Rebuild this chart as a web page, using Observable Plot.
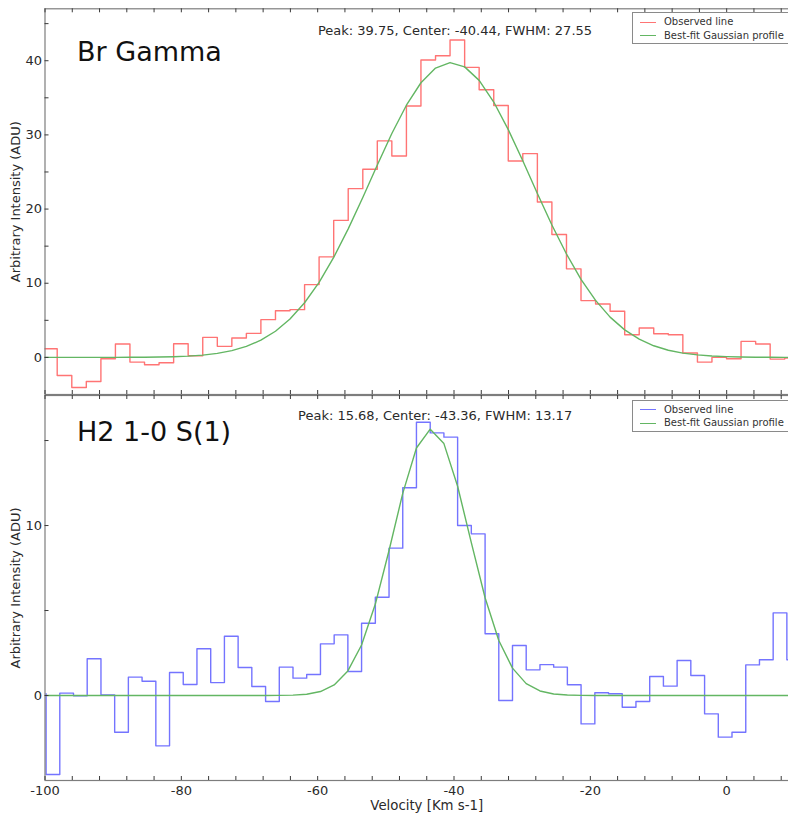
<!DOCTYPE html>
<html>
<head>
<meta charset="utf-8">
<script src="https://cdn.jsdelivr.net/npm/d3@7"></script>
<script src="https://cdn.jsdelivr.net/npm/@observablehq/plot@0.6"></script>
<style>
  html, body { margin: 0; padding: 0; background: #fff; }
  #wrap { position: relative; width: 788px; height: 815px; overflow: hidden; background: #fff; font-family: "DejaVu Sans", sans-serif; }
  .legend { position: absolute; left: 632px; width: 175px; height: 32px; border: 1px solid #8a8a8a; background: #fff; box-sizing: border-box; }
  .legend .row { position: absolute; left: 0; height: 12px; font-size: 10px; line-height: 12px; color: #333; white-space: nowrap; }
  .legend .sw { position: absolute; left: 7px; top: 5.5px; width: 16px; height: 0; border-top: 1.5px solid; }
  .legend .tx { position: absolute; left: 31px; top: 0; }
</style>
</head>
<body>
<div id="wrap"></div>
<script>
// ---------------- data ----------------
const xDomain = [-100, 10.83];
const xMajorTicks = [-100, -80, -60, -40, -20, 0];
const xAllTicks = [-100, -96, -92, -88, -84, -80, -76, -72, -68, -64, -60, -56, -52, -48, -44, -40, -36, -32, -28, -24, -20, -16, -12, -8, -4, 0, 4, 8];

// Br Gamma panel
const topTitle = "Br Gamma";
const topYDomain = [-5, 47];
const topYLabels = [0, 10, 20, 30, 40];
const topYTicks = [0, 5, 10, 15, 20, 25, 30, 35, 40, 45];
const topParams = [39.75, -40.44, 27.55]; // peak, center, FWHM
const topVel = [-100.34, -98.21, -96.07, -93.94, -91.80, -89.67, -87.54, -85.40, -83.27, -81.13, -79.00, -76.86, -74.72, -72.59, -70.46, -68.33, -66.19, -64.06, -61.92, -59.79, -57.65, -55.52, -53.38, -51.25, -49.12, -46.98, -44.85, -42.71, -40.58, -38.44, -36.31, -34.17, -32.04, -29.91, -27.77, -25.64, -23.50, -21.37, -19.23, -17.10, -14.96, -12.83, -10.70, -8.56, -6.43, -4.29, -2.16, -0.02, 2.11, 4.25, 6.38, 8.52, 10.65];
const topObs = [1.2, 1.17, -2.43, -4.05, -3.24, -0.18, 1.8, -0.63, -0.99, -0.72, 1.85, 0.23, 2.7, 1.49, 2.61, 3.24, 5.09, 6.3, 6.44, 9.82, 13.56, 18.47, 22.75, 25.36, 29.19, 27.16, 33.9, 40.09, 40.68, 42.79, 39.1, 36.08, 33.96, 26.49, 27.48, 20.95, 16.58, 11.94, 7.66, 7.21, 6.22, 3.06, 3.96, 3.2, 3.06, 0.59, -0.63, 0, -0.18, 2.16, 1.8, -0.23, -0.1];
const topFit = [0, 0, 0.0005, 0.001, 0.003, 0.006, 0.012, 0.025, 0.049, 0.094, 0.17, 0.31, 0.54, 0.91, 1.48, 2.32, 3.53, 5.18, 7.37, 10.12, 13.48, 17.33, 21.57, 25.94, 30.19, 34.0, 37.03, 39.01, 39.75, 39.17, 37.35, 34.43, 30.72, 26.51, 22.11, 17.86, 13.94, 10.53, 7.69, 5.43, 3.71, 2.46, 1.57, 0.97, 0.58, 0.34, 0.19, 0.10, 0.053, 0.027, 0.013, 0.006, 0.003];

// H2 1-0 S(1) panel
const botTitle = "H2 1-0 S(1)";
const botYDomain = [-5, 17.65];
const botYLabels = [0, 10];
const botYTicks = [0, 5, 10, 15];
const botParams = [15.68, -43.36, 13.17];
const botVel = [-99.84, -97.83, -95.82, -93.81, -91.79, -89.78, -87.77, -85.76, -83.74, -81.73, -79.72, -77.71, -75.69, -73.68, -71.67, -69.66, -67.64, -65.63, -63.62, -61.61, -59.59, -57.58, -55.57, -53.56, -51.54, -49.53, -47.52, -45.51, -43.49, -41.48, -39.47, -37.46, -35.44, -33.43, -31.42, -29.41, -27.39, -25.38, -23.37, -21.36, -19.34, -17.33, -15.32, -13.31, -11.29, -9.28, -7.27, -5.26, -3.24, -1.23, 0.78, 2.80, 4.81, 6.82, 8.83, 10.85];
const botObs = [0.1, -4.65, 0.14, -0.02, 2.16, 0.04, -2.16, 1.08, 0.84, -2.96, 1.35, 0.65, 2.75, 0.76, 3.49, 1.65, 0.53, -0.35, 1.67, 1.02, 1.24, 3.04, 3.57, 1.41, 4.25, 5.78, 8.67, 12.22, 16.08, 15.45, 15.2, 10.0, 9.51, 3.63, -0.29, 2.94, 1.51, 1.82, 1.67, 0.63, -1.67, 0.16, 0.1, -0.69, -0.35, 1.12, 0.55, 2.06, 1.18, -1.08, -2.45, -2.16, 1.8, 2.1, 4.86, 2.1];
const botFit = [0, 0, 0, 0, 0, 0, 0, 0, 0, 0, 0, 0, 0, 0, 0, 0, 0, 0.006, 0.022, 0.076, 0.233, 0.619, 1.447, 2.97, 5.38, 8.53, 11.89, 14.56, 15.67, 14.82, 12.31, 8.99, 5.75, 3.24, 1.61, 0.70, 0.266, 0.089, 0.026, 0.007, 0, 0, 0, 0, 0, 0, 0, 0, 0, 0, 0, 0, 0, 0, 0, 0];

const legendLabels = ["Observed line", "Best-fit Gaussian profile"];
const yLabel = "Arbitrary Intensity (ADU)";
const xLabel = "Velocity [Km s-1]";

// ---------------- style ----------------
const RED = "#ff7474", BLUE = "#7474ff", GREEN = "#63b663";
const SPINE = "#7d7d7d", TICK = "#3a3a3a", TXT = "#2a2a2a";
const FONT = "DejaVu Sans";
const W = 800, ML = 44.5;

function panel({vel, obs, fit, color, yDomain, yTicks, yLabels, title, params, height, mt, mb, showX, titleDy, peakDy}) {
  const data = vel.map((v, i) => ({v, obs: obs[i], fit: fit[i]}));
  const frameH = height - mt - mb;
  const frameW = W - ML;
  const [peak, center, fwhm] = params;
  const marks = [
    Plot.line(data, {x: "v", y: "obs", curve: "step-before", stroke: color, strokeWidth: 1.4, clip: true}),
    Plot.line(data, {x: "v", y: "fit", stroke: GREEN, strokeWidth: 1.4, clip: true}),
    Plot.frame({stroke: SPINE, strokeWidth: 1.2}),
    // inward ticks
    Plot.tickY(yTicks, {y: d => d, stroke: TICK, insetRight: frameW - 4}),
    Plot.tickX(xAllTicks, {x: d => d, stroke: TICK, insetTop: frameH - 4}),
    Plot.tickX(xAllTicks, {x: d => d, stroke: TICK, insetBottom: frameH - 4}),
    Plot.axisY({ticks: yLabels, tickSize: 0, tickPadding: 3, label: null, fontSize: 13, fill: TXT, tickFormat: d => String(d)}),
    Plot.text([title], {frameAnchor: "top-left", dx: 32, dy: titleDy, lineAnchor: "bottom", textAnchor: "start", fontSize: 27, fill: "#111", fontFamily: FONT}),
    Plot.text([{c: center, t: `Peak: ${peak.toFixed(2)}, Center: ${center.toFixed(2)}, FWHM: ${fwhm.toFixed(2)}`}],
      {x: "c", text: "t", frameAnchor: "top", lineAnchor: "bottom", dy: peakDy, dx: 4, fontSize: 13, fill: TXT, fontFamily: FONT}),
    Plot.text([yLabel], {frameAnchor: "left", rotate: -90, dx: -29.5, textAnchor: "middle", lineAnchor: "middle", fontSize: 13, fill: TXT, fontFamily: FONT})
  ];
  if (showX) {
    marks.push(Plot.axisX({ticks: xMajorTicks, tickSize: 0, tickPadding: 5, label: null, fontSize: 13, fill: TXT, tickFormat: d => String(d)}));
    marks.push(Plot.text([xLabel], {frameAnchor: "bottom", dy: 25, dx: 4, lineAnchor: "middle", fontSize: 13.3, fill: TXT, fontFamily: FONT}));
  }
  return Plot.plot({
    width: W, height,
    marginLeft: ML, marginRight: 0, marginTop: mt, marginBottom: mb,
    style: {maxWidth: "none", fontFamily: FONT, background: "#fff"},
    x: {domain: xDomain, axis: showX ? undefined : null},
    y: {domain: yDomain},
    marks
  });
}

const wrap = document.getElementById("wrap");
wrap.appendChild(panel({vel: topVel, obs: topObs, fit: topFit, color: RED, yDomain: topYDomain, yTicks: topYTicks, yLabels: topYLabels,
  title: topTitle, params: topParams, height: 395, mt: 8.3, mb: 1, showX: false, titleDy: 52.4, peakDy: 26}));
wrap.appendChild(panel({vel: botVel, obs: botObs, fit: botFit, color: BLUE, yDomain: botYDomain, yTicks: botYTicks, yLabels: botYLabels,
  title: botTitle, params: botParams, height: 420, mt: 0, mb: 35, showX: true, titleDy: 45, peakDy: 24}));

function legend(top, color) {
  const box = document.createElement("div");
  box.className = "legend";
  box.style.top = top + "px";
  [[color, legendLabels[0], 3], [GREEN, legendLabels[1], 16.5]].forEach(([c, t, y]) => {
    const row = document.createElement("div");
    row.className = "row";
    row.style.top = y + "px";
    const sw = document.createElement("div"); sw.className = "sw"; sw.style.borderTopColor = c;
    const tx = document.createElement("div"); tx.className = "tx"; tx.textContent = t;
    row.appendChild(sw); row.appendChild(tx); box.appendChild(row);
  });
  wrap.appendChild(box);
}
legend(12, RED);
legend(399.5, BLUE);
</script>
</body>
</html>
